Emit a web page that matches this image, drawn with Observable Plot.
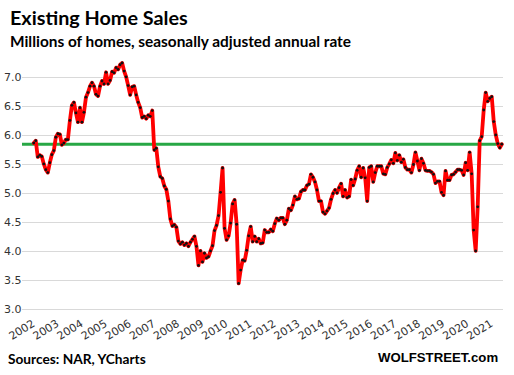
<!DOCTYPE html>
<html><head><meta charset="utf-8">
<script src="https://cdn.jsdelivr.net/npm/d3@7"></script>
<script src="https://cdn.jsdelivr.net/npm/@observablehq/plot@0.6"></script>
<style>
html,body{margin:0;padding:0;background:#fff}
body{width:514px;height:375px;position:relative;overflow:hidden;font-family:Lato,"Open Sans",sans-serif;color:#000}
.t{position:absolute;white-space:nowrap;line-height:1;font-weight:700}
#title{left:10px;top:7.5px;font-size:19.8px}
#subtitle{left:10px;top:34px;font-size:15.4px}
#source{left:8px;top:352px;font-size:13.7px}
#brand{left:378px;top:351px;font-size:13.2px;font-family:"Liberation Sans",Arial,sans-serif}
#chart{position:absolute;left:0;top:55px}
</style></head><body>
<div class="t" id="title">Existing Home Sales</div>
<div class="t" id="subtitle">Millions of homes, seasonally adjusted annual rate</div>
<div id="chart"></div>
<div class="t" id="source">Sources: NAR, YCharts</div>
<div class="t" id="brand">WOLFSTREET.com</div>
<script>
// Existing home sales, millions, SAAR — monthly, Jan 2002 .. Jun 2021
const s2002 = [5.87, 5.91, 5.63, 5.66, 5.64, 5.51, 5.41, 5.36, 5.53, 5.67, 5.74, 5.97];
const s2003 = [6.03, 6.02, 5.84, 5.87, 5.93, 5.93, 6.26, 6.52, 6.57, 6.39, 6.23, 6.48];
const s2004 = [6.23, 6.40, 6.66, 6.74, 6.85, 6.91, 6.85, 6.71, 6.68, 6.85, 6.94, 6.89];
const s2005 = [7.09, 6.89, 6.95, 7.10, 7.08, 7.17, 7.14, 7.22, 7.25, 7.11, 7.01, 6.86];
const s2006 = [6.70, 6.84, 6.85, 6.70, 6.57, 6.48, 6.31, 6.33, 6.29, 6.35, 6.33, 6.43];
const s2007 = [5.75, 5.78, 5.46, 5.29, 5.26, 5.13, 5.07, 4.87, 4.56, 4.44, 4.46, 4.42];
const s2008 = [4.18, 4.13, 4.16, 4.11, 4.14, 4.09, 4.16, 4.21, 4.26, 4.09, 3.76, 4.01];
const s2009 = [3.82, 3.97, 3.89, 3.91, 4.01, 4.10, 4.36, 4.45, 4.62, 5.02, 5.44, 4.40];
const s2010 = [4.20, 4.27, 4.49, 4.82, 4.89, 4.47, 3.45, 3.68, 3.85, 3.84, 4.02, 4.27];
const s2011 = [4.43, 4.17, 4.26, 4.17, 4.22, 4.14, 4.15, 4.37, 4.33, 4.33, 4.38, 4.35];
const s2012 = [4.48, 4.57, 4.54, 4.58, 4.58, 4.47, 4.54, 4.74, 4.71, 4.80, 4.95, 4.90];
const s2013 = [4.91, 5.03, 5.06, 5.06, 5.14, 5.16, 5.33, 5.28, 5.20, 5.06, 4.87, 4.87];
const s2014 = [4.68, 4.65, 4.70, 4.75, 4.90, 5.00, 5.06, 5.01, 5.10, 5.17, 4.95, 5.06];
const s2015 = [4.93, 4.95, 5.24, 5.14, 5.25, 5.40, 5.47, 5.28, 5.44, 5.27, 4.87, 5.45];
const s2016 = [5.47, 5.20, 5.36, 5.47, 5.47, 5.47, 5.34, 5.33, 5.45, 5.51, 5.58, 5.52];
const s2017 = [5.70, 5.57, 5.66, 5.54, 5.59, 5.45, 5.41, 5.41, 5.36, 5.50, 5.71, 5.56];
const s2018 = [5.40, 5.60, 5.52, 5.40, 5.39, 5.39, 5.37, 5.33, 5.18, 5.21, 5.21, 5.02];
const s2019 = [4.97, 5.39, 5.23, 5.23, 5.32, 5.33, 5.37, 5.41, 5.41, 5.40, 5.32, 5.53];
const s2020 = [5.40, 5.71, 5.34, 4.37, 4.01, 4.77, 5.91, 5.98, 6.44, 6.74, 6.59, 6.64];
const s2021 = [6.67, 6.24, 6.01, 5.86, 5.79, 5.85];

const yearLabels = ["2002","2003","2004","2005","2006","2007","2008","2009","2010","2011",
                    "2012","2013","2014","2015","2016","2017","2018","2019","2020","2021"];
const yTickValues = [3.0, 3.5, 4.0, 4.5, 5.0, 5.5, 6.0, 6.5, 7.0];
const referenceLevel = 5.85;

const series = [s2002,s2003,s2004,s2005,s2006,s2007,s2008,s2009,s2010,s2011,
                s2012,s2013,s2014,s2015,s2016,s2017,s2018,s2019,s2020,s2021];
const data = series.flatMap((vals, yi) => vals.map((v, m) => ({i: yi * 12 + m, v})));
const yearTicks = yearLabels.map((_, k) => k * 12);

const chart = Plot.plot({
  width: 514,
  height: 290,
  marginLeft: 22,
  marginRight: 11,
  marginTop: 22,
  marginBottom: 36,
  style: {fontFamily: "DejaVu Sans, Verdana, sans-serif", fontSize: "11px", color: "#333", background: "#fff"},
  x: {type: "linear", domain: [-5.6, 233.85]},
  y: {domain: [3, 7]},
  marks: [
    Plot.ruleY(yTickValues, {stroke: "#d9d9d9", strokeWidth: 1.2}),
    Plot.ruleY([referenceLevel], {stroke: "#28a745", strokeWidth: 3}),
    Plot.line(data, {x: "i", y: "v", stroke: "#ff0000", strokeWidth: 3.8, strokeLinejoin: "round"}),
    Plot.dot(data, {x: "i", y: "v", r: 1.4, fill: "#111", stroke: "none"}),
    Plot.axisY({ticks: yTickValues, tickFormat: d => d.toFixed(1), tickSize: 0, tickPadding: 1, label: null, fontSize: 11}),
    Plot.axisX({ticks: yearTicks, tickFormat: i => yearLabels[i / 12], tickSize: 0, tickPadding: 13, tickRotate: -32, label: null, fontSize: 11})
  ]
});
document.getElementById("chart").appendChild(chart);
</script>
</body></html>
